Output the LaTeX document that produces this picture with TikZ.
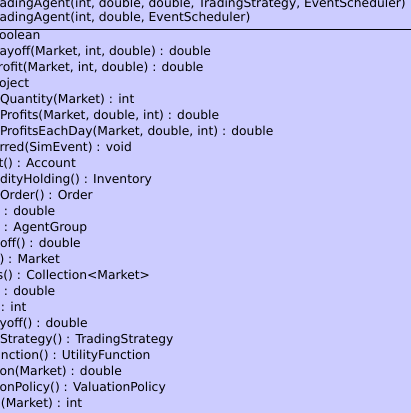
\documentclass[tikz,border=0pt]{standalone}
\usepackage{fontspec}
\setmainfont{DejaVu Sans}
\definecolor{umlfill}{HTML}{CCCCFF}
\begin{document}
\begin{tikzpicture}[x=1pt,y=-1pt,
  member/.style={anchor=base west,inner sep=0pt,outer sep=0pt,font=\fontsize{12.3}{14}\selectfont,text=black}]
\useasboundingbox (0,0) rectangle (411,413);
\clip (0,0) rectangle (411,413);
\fill[umlfill] (0,0) rectangle (411,413);
\coordinate (sepL) at (0,29);
\coordinate (sepR) at (411,29);
\draw[line width=1pt,black] (sepL) -- (sepR);
\node[member] (c1) at (-0.5,7.5) {adingAgent(int, double, double, TradingStrategy, EventScheduler)};
\node[member] (c2) at (-0.5,21) {adingAgent(int, double, EventScheduler)};
\node[member] (m1) at (-1,39) {oolean};
\node[member] (m2) at (-0.5,55) {ayoff(Market, int, double) : double};
\node[member] (m3) at (-2,71) {rofit(Market, int, double) : double};
\node[member] (m4) at (-1,87) {oject};
\node[member] (m5) at (0,103) {Quantity(Market) : int};
\node[member] (m6) at (0,119) {Profits(Market, double, int) : double};
\node[member] (m7) at (0,135) {ProfitsEachDay(Market, double, int) : double};
\node[member] (m8) at (-0.5,151) {rred(SimEvent) : void};
\node[member] (m9) at (-1.5,167) {t() : Account};
\node[member] (m10) at (0,183) {dityHolding() : Inventory};
\node[member] (m11) at (0,199) {Order() : Order};
\node[member] (m12) at (4,215) {: double};
\node[member] (m13) at (4,231) {: AgentGroup};
\node[member] (m14) at (0,247) {off() : double};
\node[member] (m15) at (-0.5,263) {) : Market};
\node[member] (m16) at (-3,279) {s() : Collection<Market>};
\node[member] (m17) at (4,295) {: double};
\node[member] (m18) at (1,311) {: int};
\node[member] (m19) at (-0.5,327) {yoff() : double};
\node[member] (m20) at (0,343) {Strategy() : TradingStrategy};
\node[member] (m21) at (1,359) {nction() : UtilityFunction};
\node[member] (m22) at (-0.5,375) {on(Market) : double};
\node[member] (m23) at (-0.5,391) {onPolicy() : ValuationPolicy};
\node[member] (m24) at (1,407) {(Market) : int};
\end{tikzpicture}
\end{document}
